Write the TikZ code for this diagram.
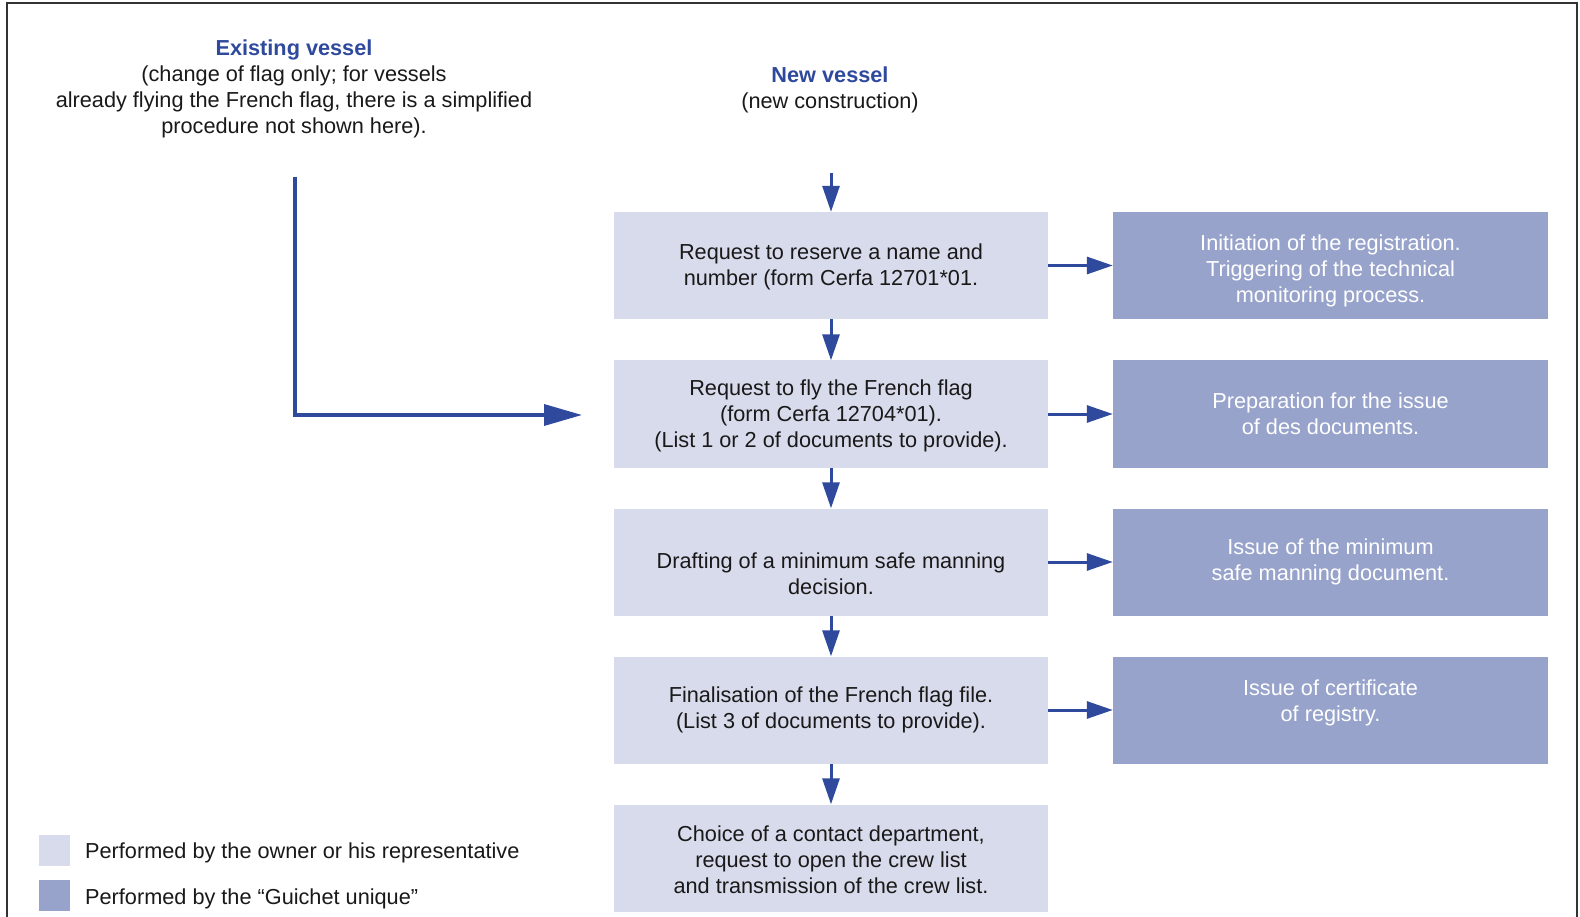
\documentclass[tikz,border=0pt]{standalone}
\usepackage{fontspec}
\setmainfont{Liberation Sans}
\usetikzlibrary{arrows.meta}
\definecolor{lightbox}{HTML}{D8DBEB}
\definecolor{darkbox}{HTML}{97A3CB}
\definecolor{flowblue}{HTML}{2F4A9D}
\definecolor{frame}{HTML}{333333}
\begin{document}
\begin{tikzpicture}[x=1pt,y=-1pt,
  txt/.style={font=\fontsize{21.7}{26}\selectfont, align=center, inner sep=0pt, text=black!90, yshift=-2.5pt},
  ownerbox/.style={fill=lightbox, minimum width=434pt, minimum height=107pt, inner sep=0pt},
  guichetbox/.style={fill=darkbox, minimum width=435pt, minimum height=107pt, inner sep=0pt},
  wtxt/.style={txt, text=white},
  flow/.style={draw=flowblue, line width=3pt, -{Triangle[length=26pt,width=17pt]}},
  bigflow/.style={draw=flowblue, line width=3.5pt, -{Triangle[length=38pt,width=21pt]}},
  legsq/.style={minimum width=31pt, minimum height=31pt, inner sep=0pt}
]
\useasboundingbox (0,0) rectangle (1580,917);
\fill[white] (0,0) rectangle (1580,917);
\draw[frame, line width=1.5pt] (7,917) -- (7,3) -- (1577,3) -- (1577,917);

% headings
\node[txt] (exist) at (294,86) {\textbf{\color{flowblue}Existing vessel}\\(change of flag only; for vessels\\already flying the French flag, there is a simplified\\procedure not shown here).};
\node[txt] (new) at (830,87) {\textbf{\color{flowblue}New vessel}\\(new construction)};

% owner boxes
\node[ownerbox] (b1) at (831,265.5) {};
\node[ownerbox] (b2) at (831,414) {};
\node[ownerbox] (b3) at (831,562) {};
\node[ownerbox] (b4) at (831,710) {};
\node[ownerbox] (b5) at (831,858) {};
\node[txt] (t1) at (831,264) {Request to reserve a name and\\number (form Cerfa 12701*01.};
\node[txt] (t2) at (831,413) {Request to fly the French flag\\(form Cerfa 12704*01).\\(List 1 or 2 of documents to provide).};
\node[txt] (t3) at (831,571) {Drafting of a minimum safe manning\\decision.};
\node[txt] (t4) at (831,707) {Finalisation of the French flag file.\\(List 3 of documents to provide).};
\node[txt] (t5) at (831,857.5) {Choice of a contact department,\\request to open the crew list\\and transmission of the crew list.};

% guichet boxes
\node[guichetbox] (g1) at (1330.5,265.5) {};
\node[guichetbox] (g2) at (1330.5,414) {};
\node[guichetbox] (g3) at (1330.5,562) {};
\node[guichetbox] (g4) at (1330.5,710) {};
\node[wtxt] (u1) at (1330.5,268) {Initiation of the registration.\\Triggering of the technical\\monitoring process.};
\node[wtxt] (u2) at (1330.5,411) {Preparation for the issue\\of des documents.};
\node[wtxt] (u3) at (1330.5,559) {Issue of the minimum\\safe manning document.};
\node[wtxt] (u4) at (1330.5,700) {Issue of certificate\\of registry.};

% vertical flow
\coordinate (top) at (831,173);
\draw[flow] (top) -- (b1.north);
\draw[flow] (b1.south) -- (b2.north);
\draw[flow] (b2.south) -- (b3.north);
\draw[flow] (b3.south) -- (b4.north);
\draw[flow] (b4.south) -- (b5.north);

% horizontal flow
\draw[flow] (b1.east) -- (g1.west);
\draw[flow] (b2.east) -- (g2.west);
\draw[flow] (b3.east) -- (g3.west);
\draw[flow] (b4.east) -- (g4.west);

% existing vessel arrow
\coordinate (ls) at (295,177);
\coordinate (lc) at (295,415);
\coordinate (le) at (582,415);
\draw[bigflow] (ls) -- (lc) -- (le);

% legend
\node[legsq, fill=lightbox] (l1) at (54.5,850) {};
\node[legsq, fill=darkbox] (l2) at (54.5,895.5) {};
\node[txt, anchor=west] (lt1) at (85,850.5) {Performed by the owner or his representative};
\node[txt, anchor=west] (lt2) at (85,896) {Performed by the “Guichet unique”};
\end{tikzpicture}
\end{document}
